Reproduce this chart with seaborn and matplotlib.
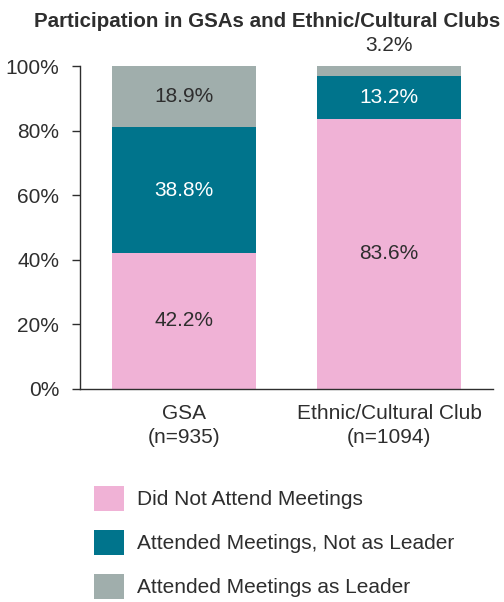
# 参与GSA与民族/文化社团情况 堆叠柱状图

import pandas as pd
import seaborn as sns
import matplotlib.pyplot as plt
from matplotlib.patches import Patch

groups = ['GSA\n(n=935)', 'Ethnic/Cultural Club\n(n=1094)']
did_not_attend = [42.2, 83.6]
attended_not_leader = [38.8, 13.2]
attended_leader = [18.9, 3.2]
series_names = ['Did Not Attend Meetings', 'Attended Meetings, Not as Leader', 'Attended Meetings as Leader']
y_ticks = [0, 20, 40, 60, 80, 100]

colors = ['#F0B2D6', '#00748C', '#A0AEAC']
text_color = '#2E2E2E'

sns.set_style('white')
plt.rcParams['font.family'] = ['Liberation Sans', 'DejaVu Sans']
plt.rcParams['text.color'] = text_color

df = pd.DataFrame({
    'group': groups,
    'did_not': did_not_attend,
    'not_leader': attended_not_leader,
    'leader': attended_leader,
})
df['c1'] = df['did_not']
df['c2'] = df['c1'] + df['not_leader']
df['c3'] = df['c2'] + df['leader']

fig = plt.figure(figsize=(5.04, 6.02), dpi=100)
ax = fig.add_axes([80 / 504, 213 / 602, 413 / 504, 323 / 602])

# 先画累计最高的，再往下叠
for col, c in zip(['c3', 'c2', 'c1'], colors[::-1]):
    sns.barplot(data=df, x='group', y=col, color=c, width=0.7, ax=ax, saturation=1, linewidth=0)

# 数值标签
fs = 15
for i, row in df.iterrows():
    segs = [(0, row['c1'], row['did_not'], text_color),
            (row['c1'], row['c2'], row['not_leader'], 'white'),
            (row['c2'], row['c3'], row['leader'], text_color)]
    for lo, hi, v, tc in segs:
        if v < 5:
            ax.text(i, 106.5, f'{v:.1f}%', ha='center', va='center', fontsize=fs, color=text_color, clip_on=False)
        else:
            ax.text(i, (lo + hi) / 2, f'{v:.1f}%', ha='center', va='center', fontsize=fs, color=tc)

ax.set_xlim(-0.507, 1.507)
ax.set_ylim(0, 100)
ax.set_yticks(y_ticks)
ax.set_yticklabels([f'{t}%' for t in y_ticks])
ax.set_xlabel('')
ax.set_ylabel('')
sns.despine(ax=ax, top=True, right=True)
for s in ['left', 'bottom']:
    ax.spines[s].set_color(text_color)
    ax.spines[s].set_linewidth(1.0)
ax.tick_params(axis='y', length=6, width=1, color=text_color, pad=9, labelsize=fs, labelcolor=text_color, left=True)
ax.tick_params(axis='x', length=0, pad=11, labelsize=fs, labelcolor=text_color)
for lab in ax.get_xticklabels():
    lab.set_linespacing(1.3)

fig.text(267 / 504, 0.965, 'Participation in GSAs and Ethnic/Cultural Clubs', ha='center', va='center',
         fontsize=14.8, fontweight='bold', color=text_color)

handles = [Patch(facecolor=c, edgecolor='none') for c in colors]
fig.legend(handles, series_names, loc='upper left', bbox_to_anchor=(94 / 504, 1 - 486 / 602),
           frameon=False, fontsize=fs, handlelength=1.45, handleheight=1.45, handletextpad=0.6,
           labelspacing=0.92, borderpad=0, borderaxespad=0, labelcolor=text_color)

plt.savefig('out.png', dpi=100)
